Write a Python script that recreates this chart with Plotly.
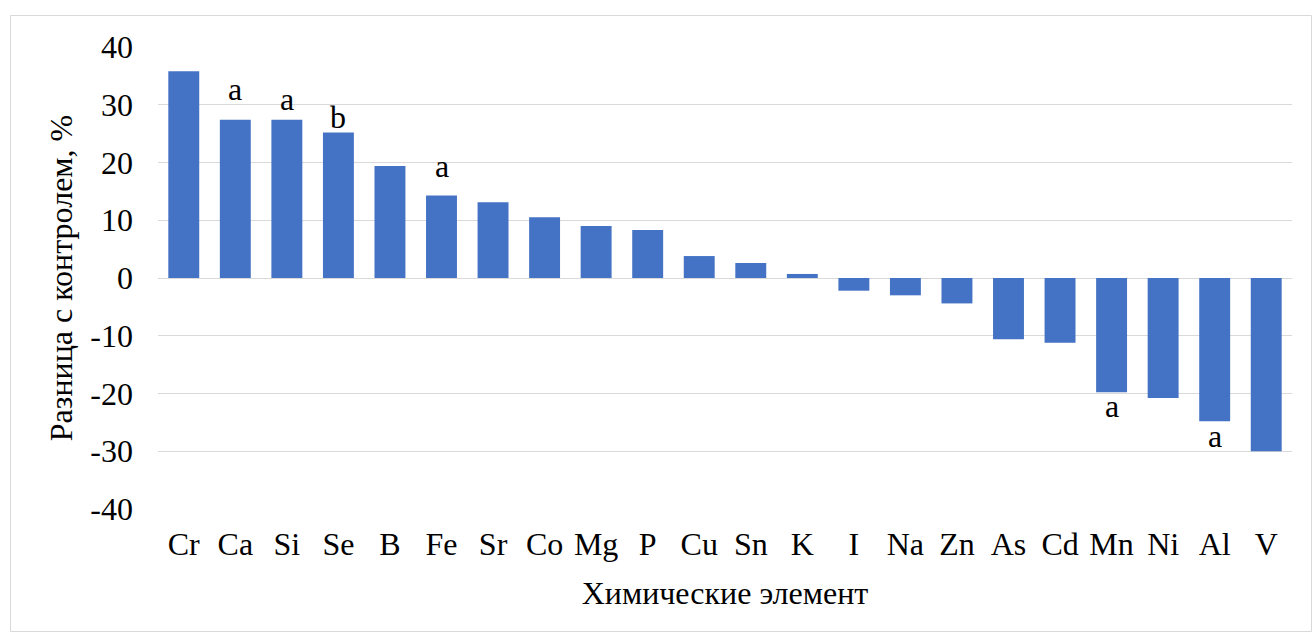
import plotly.graph_objects as go

elements = ["Cr", "Ca", "Si", "Se", "B", "Fe", "Sr", "Co", "Mg", "P", "Cu",
            "Sn", "K", "I", "Na", "Zn", "As", "Cd", "Mn", "Ni", "Al", "V"]
values = [35.8, 27.4, 27.4, 25.2, 19.4, 14.3, 13.1, 10.5, 9.0, 8.3, 3.8,
          2.6, 0.7, -2.2, -3.0, -4.4, -10.6, -11.2, -19.8, -20.8, -24.8, -30.0]
letters = ["", "a", "a", "b", "", "a", "", "", "", "", "",
           "", "", "", "", "", "", "", "a", "", "a", ""]
y_ticks = [-40, -30, -20, -10, 0, 10, 20, 30, 40]

# per-label pixel nudges (styling only)
label_shift = {"Ca": 11, "Si": 1, "Se": -5, "Fe": 9, "Mn": 6, "Al": 5}

FONT = "'Liberation Serif', 'Times New Roman', Times, serif"
FS = 32
BAR = "#4472C4"

fig = go.Figure()
fig.add_trace(go.Bar(x=elements, y=values, marker=dict(color=BAR, line=dict(width=0)),
                     hoverinfo="x+y"))

annotations = []
for el, v, lt in zip(elements, values, letters):
    if lt:
        sh = label_shift.get(el, 0)
        annotations.append(dict(x=el, y=v, xref="x", yref="y", text=lt, showarrow=False,
                                yanchor="bottom" if v > 0 else "top",
                                yshift=sh,
                                font=dict(family=FONT, size=FS, color="#000000")))

L, R, T, B = 158, 20, 47, 123
W, H = 1312, 632
pw, ph = W - L - R, H - T - B
def px2paper_x(px):
    return (px - L) / pw
def px2paper_y(py):
    return (H - B - py) / ph

fig.update_layout(
    width=W, height=H,
    margin=dict(l=L, r=R, t=T, b=B, pad=0),
    paper_bgcolor="white", plot_bgcolor="white",
    bargap=0.40,
    showlegend=False,
    font=dict(family=FONT, size=FS, color="#000000"),
    annotations=annotations,
    shapes=[dict(type="rect", xref="paper", yref="paper", layer="below",
                 x0=px2paper_x(10.5), x1=px2paper_x(1311.5),
                 y0=px2paper_y(631.5), y1=px2paper_y(15.5),
                 line=dict(color="#D9D9D9", width=1), fillcolor="rgba(0,0,0,0)")],
    xaxis=dict(title=dict(text="Химические элемент", font=dict(family=FONT, size=FS), standoff=20),
               showgrid=False, zeroline=False, showline=False, ticks="",
               tickfont=dict(family=FONT, size=FS), ticklabelstandoff=13),
    yaxis=dict(title=dict(text="Разница с контролем, %", font=dict(family=FONT, size=FS), standoff=8),
               range=[-40, 40], tickvals=y_ticks, ticktext=[str(t) for t in y_ticks],
               showgrid=True, gridcolor="#D9D9D9", gridwidth=1,
               zeroline=True, zerolinecolor="#D9D9D9", zerolinewidth=1,
               showline=False, ticks="", tickfont=dict(family=FONT, size=FS),
               ticklabelstandoff=24),
)

fig.write_html("out.html")
